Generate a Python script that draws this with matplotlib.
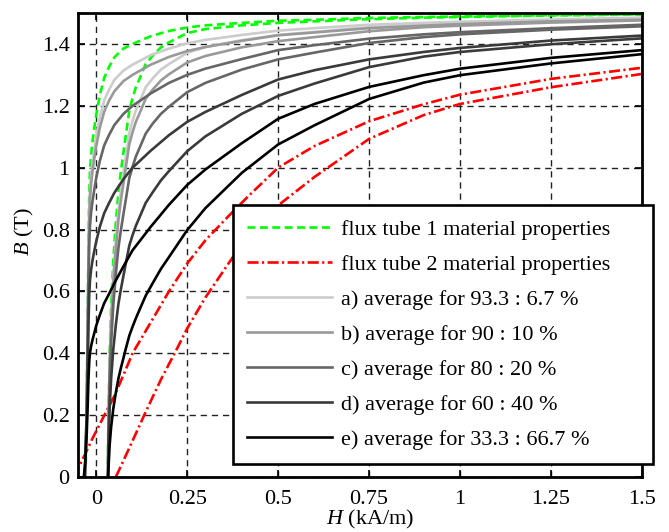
import matplotlib.pyplot as plt

plt.rcParams["font.family"] = ["Liberation Serif", "DejaVu Serif"]
plt.rcParams["mathtext.fontset"] = "custom"
plt.rcParams["mathtext.rm"] = "Liberation Serif"
plt.rcParams["mathtext.it"] = "Liberation Serif:italic"

# B-H branches as (H in kA/m, B in T); "desc" = left branch, "asc" = right branch
tube1_desc = [(-0.029, 0.0), (-0.026, 0.25), (-0.023, 0.55), (-0.021, 0.78), (-0.019, 0.92),
              (-0.017, 0.99), (-0.014, 1.04), (-0.01, 1.085), (-0.005, 1.13), (0.0, 1.17),
              (0.01, 1.235), (0.022, 1.29), (0.035, 1.325), (0.05, 1.357), (0.075, 1.385),
              (0.1, 1.40), (0.15, 1.425), (0.2, 1.442), (0.25, 1.453), (0.3, 1.46),
              (0.4, 1.468), (0.5, 1.475), (0.6, 1.478), (0.75, 1.484), (0.9, 1.487),
              (1.0, 1.489), (1.25, 1.493), (1.5, 1.496)]
tube1_asc = [(0.031, 0.0), (0.034, 0.2), (0.037, 0.4), (0.041, 0.55), (0.047, 0.7),
             (0.054, 0.82), (0.061, 0.92), (0.068, 0.99), (0.075, 1.05), (0.081, 1.10),
             (0.091, 1.185), (0.1, 1.225), (0.109, 1.26), (0.12, 1.29), (0.136, 1.335),
             (0.155, 1.362), (0.178, 1.389), (0.2, 1.405), (0.25, 1.435), (0.3, 1.448),
             (0.4, 1.46), (0.5, 1.468), (0.6, 1.473), (0.75, 1.48), (0.9, 1.485),
             (1.0, 1.487), (1.25, 1.492), (1.5, 1.495)]
tube2_desc = [(-0.06, 0.0), (-0.05, 0.027), (-0.03, 0.075), (-0.01, 0.125), (0.0, 0.148),
              (0.027, 0.21), (0.05, 0.262), (0.075, 0.33), (0.1, 0.4), (0.15, 0.5),
              (0.2, 0.6), (0.25, 0.69), (0.3, 0.765), (0.365, 0.845), (0.42, 0.91),
              (0.5, 1.0), (0.6, 1.07), (0.75, 1.15), (0.9, 1.205), (1.0, 1.236),
              (1.25, 1.287), (1.5, 1.323)]
tube2_asc = [(0.054, 0.0), (0.075, 0.053), (0.1, 0.117), (0.132, 0.2), (0.155, 0.258),
             (0.18, 0.32), (0.2, 0.365), (0.22, 0.41), (0.25, 0.48), (0.3, 0.58),
             (0.375, 0.71), (0.44, 0.80), (0.5, 0.878), (0.6, 0.97), (0.75, 1.093),
             (0.9, 1.17), (1.0, 1.206), (1.25, 1.26), (1.5, 1.303)]

mix_a_desc = [(-0.03, 0.0), (-0.026, 0.239), (-0.023, 0.519), (-0.021, 0.735), (-0.019, 0.865),
              (-0.017, 0.931), (-0.014, 0.978), (-0.01, 1.02), (-0.005, 1.063), (0.0, 1.102),
              (0.01, 1.163), (0.022, 1.217), (0.035, 1.251), (0.05, 1.284), (0.075, 1.314),
              (0.1, 1.333), (0.15, 1.364), (0.2, 1.385), (0.25, 1.402), (0.3, 1.413),
              (0.4, 1.429), (0.5, 1.443), (0.6, 1.451), (0.75, 1.462), (0.9, 1.468),
              (1.0, 1.472), (1.25, 1.479), (1.5, 1.485)]
mix_a_asc = [(0.031, 0.0), (0.034, 0.184), (0.037, 0.37), (0.041, 0.511), (0.047, 0.652),
             (0.054, 0.765), (0.061, 0.859), (0.068, 0.926), (0.075, 0.984), (0.081, 1.031),
             (0.091, 1.112), (0.1, 1.151), (0.109, 1.185), (0.12, 1.215), (0.136, 1.26),
             (0.155, 1.288), (0.178, 1.317), (0.2, 1.335), (0.25, 1.371), (0.3, 1.39),
             (0.4, 1.412), (0.5, 1.429), (0.6, 1.439), (0.75, 1.454), (0.9, 1.463),
             (1.0, 1.468), (1.25, 1.476), (1.5, 1.482)]
mix_b_desc = [(-0.03, 0.0), (-0.026, 0.234), (-0.023, 0.504), (-0.021, 0.712), (-0.019, 0.838),
              (-0.017, 0.902), (-0.014, 0.948), (-0.01, 0.99), (-0.005, 1.031), (0.0, 1.068),
              (0.01, 1.129), (0.022, 1.181), (0.035, 1.216), (0.05, 1.247), (0.075, 1.28),
              (0.1, 1.30), (0.15, 1.333), (0.2, 1.358), (0.25, 1.377), (0.3, 1.39),
              (0.4, 1.41), (0.5, 1.428), (0.6, 1.437), (0.75, 1.451), (0.9, 1.459),
              (1.0, 1.464), (1.25, 1.473), (1.5, 1.478)]
mix_b_asc = [(0.032, 0.0), (0.034, 0.175), (0.037, 0.356), (0.041, 0.492), (0.047, 0.628),
             (0.054, 0.738), (0.061, 0.83), (0.068, 0.895), (0.075, 0.95), (0.081, 0.997),
             (0.091, 1.076), (0.1, 1.115), (0.109, 1.148), (0.12, 1.178), (0.136, 1.223),
             (0.155, 1.252), (0.178, 1.282), (0.2, 1.302), (0.25, 1.34), (0.3, 1.361),
             (0.4, 1.389), (0.5, 1.409), (0.6, 1.422), (0.75, 1.441), (0.9, 1.454),
             (1.0, 1.459), (1.25, 1.469), (1.5, 1.476)]
mix_c_desc = [(-0.031, 0.0), (-0.026, 0.217), (-0.023, 0.459), (-0.021, 0.644), (-0.019, 0.757),
              (-0.017, 0.814), (-0.014, 0.855), (-0.01, 0.893), (-0.005, 0.931), (0.0, 0.966),
              (0.01, 1.022), (0.022, 1.072), (0.035, 1.105), (0.05, 1.138), (0.075, 1.174),
              (0.1, 1.20), (0.15, 1.24), (0.2, 1.274), (0.25, 1.30), (0.3, 1.32),
              (0.4, 1.351), (0.5, 1.38), (0.6, 1.396), (0.75, 1.417), (0.9, 1.431),
              (1.0, 1.438), (1.25, 1.451), (1.5, 1.462)]
mix_c_asc = [(0.0325, 0.0), (0.034, 0.15), (0.037, 0.311), (0.041, 0.433), (0.047, 0.556),
             (0.054, 0.656), (0.061, 0.74), (0.068, 0.799), (0.075, 0.851), (0.081, 0.894),
             (0.091, 0.967), (0.1, 1.003), (0.109, 1.036), (0.12, 1.066), (0.136, 1.11),
             (0.155, 1.142), (0.178, 1.174), (0.2, 1.197), (0.25, 1.244), (0.3, 1.274),
             (0.4, 1.317), (0.5, 1.35), (0.6, 1.372), (0.75, 1.403), (0.9, 1.422),
             (1.0, 1.431), (1.25, 1.446), (1.5, 1.457)]
mix_d_desc = [(-0.032, 0.0), (-0.026, 0.184), (-0.023, 0.367), (-0.021, 0.507), (-0.019, 0.593),
              (-0.017, 0.637), (-0.014, 0.67), (-0.01, 0.701), (-0.005, 0.732), (0.0, 0.761),
              (0.01, 0.809), (0.022, 0.853), (0.035, 0.885), (0.05, 0.919), (0.075, 0.963),
              (0.1, 1.0), (0.15, 1.055), (0.2, 1.105), (0.25, 1.148), (0.3, 1.18),
              (0.4, 1.235), (0.5, 1.285), (0.6, 1.315), (0.75, 1.35), (0.9, 1.374),
              (1.0, 1.387), (1.25, 1.411), (1.5, 1.427)]
mix_d_asc = [(0.033, 0.0), (0.034, 0.10), (0.037, 0.223), (0.041, 0.317), (0.047, 0.413),
             (0.054, 0.492), (0.061, 0.559), (0.068, 0.608), (0.075, 0.651), (0.081, 0.688),
             (0.091, 0.748), (0.1, 0.782), (0.109, 0.812), (0.12, 0.842), (0.136, 0.886),
             (0.155, 0.92), (0.178, 0.959), (0.2, 0.989), (0.25, 1.053), (0.3, 1.101),
             (0.4, 1.174), (0.5, 1.232), (0.6, 1.272), (0.75, 1.325), (0.9, 1.359),
             (1.0, 1.374), (1.25, 1.399), (1.5, 1.418)]
mix_e_desc = [(-0.034, 0.0), (-0.03, 0.047), (-0.026, 0.14), (-0.023, 0.245), (-0.021, 0.325),
              (-0.019, 0.375), (-0.017, 0.402), (-0.014, 0.423), (-0.01, 0.444), (-0.005, 0.466),
              (0.0, 0.489), (0.01, 0.524), (0.022, 0.562), (0.035, 0.591), (0.05, 0.627),
              (0.075, 0.681), (0.1, 0.733), (0.15, 0.809), (0.2, 0.88), (0.25, 0.944),
              (0.3, 0.994), (0.4, 1.079), (0.5, 1.158), (0.6, 1.206), (0.75, 1.261),
              (0.9, 1.299), (1.0, 1.32), (1.25, 1.355), (1.5, 1.38)]
mix_e_asc = [(0.0325, 0.0), (0.034, 0.034), (0.037, 0.104), (0.041, 0.161), (0.047, 0.221),
             (0.054, 0.273), (0.061, 0.318), (0.068, 0.353), (0.075, 0.385), (0.081, 0.413),
             (0.091, 0.457), (0.1, 0.486), (0.109, 0.513), (0.12, 0.543), (0.136, 0.586),
             (0.155, 0.626), (0.178, 0.673), (0.2, 0.711), (0.25, 0.798), (0.3, 0.869),
             (0.4, 0.983), (0.5, 1.075), (0.6, 1.137), (0.75, 1.222), (0.9, 1.275),
             (1.0, 1.299), (1.25, 1.337), (1.5, 1.367)]

mix_labels = ["a) average for 93.3 : 6.7 %", "b) average for 90 : 10 %",
              "c) average for 80 : 20 %", "d) average for 60 : 40 %",
              "e) average for 33.3 : 66.7 %"]
mix_colors = ["#cccccc", "#999999", "#666666", "#3a3a3a", "#000000"]

x_ticks = [0, 0.25, 0.5, 0.75, 1, 1.25, 1.5]
x_ticklabels = ["0", "0.25", "0.5", "0.75", "1", "1.25", "1.5"]
y_ticks = [0, 0.2, 0.4, 0.6, 0.8, 1.0, 1.2, 1.4]
y_ticklabels = ["0", "0.2", "0.4", "0.6", "0.8", "1", "1.2", "1.4"]


def unzip(points):
    return [p[0] for p in points], [p[1] for p in points]


fig, ax = plt.subplots(figsize=(6.69, 5.32), dpi=100)
fig.subplots_adjust(left=78 / 669, right=642 / 669, bottom=1 - 477 / 532, top=1 - 13 / 532)

lw = 1.9
for i, branch in enumerate([tube1_desc, tube1_asc]):
    h, b = unzip(branch)
    ax.plot(h, b, color="#00ff00", lw=lw, dashes=(3.0, 1.7),
            label="flux tube 1 material properties" if i == 0 else None)
for i, branch in enumerate([tube2_desc, tube2_asc]):
    h, b = unzip(branch)
    ax.plot(h, b, color="#ff0000", lw=lw, dashes=(4.2, 1.3, 0.8, 1.3),
            label="flux tube 2 material properties" if i == 0 else None)

mix_branches = [(mix_a_desc, mix_a_asc), (mix_b_desc, mix_b_asc), (mix_c_desc, mix_c_asc),
                (mix_d_desc, mix_d_asc), (mix_e_desc, mix_e_asc)]
for (desc, asc), label, color in zip(mix_branches, mix_labels, mix_colors):
    h, b = unzip(desc)
    ax.plot(h, b, color=color, lw=lw, label=label)
    h, b = unzip(asc)
    ax.plot(h, b, color=color, lw=lw)

ax.set_xlim(-0.05, 1.5)
ax.set_ylim(0, 1.5)
ax.set_xticks(x_ticks)
ax.set_xticklabels(x_ticklabels)
ax.set_yticks(y_ticks)
ax.set_yticklabels(y_ticklabels)
ax.tick_params(direction="in", top=True, right=True, length=5, width=1.2, labelsize=16)
ax.tick_params(axis="x", pad=9)
ax.tick_params(axis="y", pad=6)
ax.grid(True, color="#222222", linestyle=(0, (4.5, 3.5)), linewidth=1.0)
for s in ax.spines.values():
    s.set_linewidth(2.0)

ax.set_xlabel("$H$ (kA/m)", fontsize=16)
ax.set_ylabel("$B$ (T)", fontsize=16)
ax.xaxis.set_label_coords(0.518, -0.066)
ax.yaxis.set_label_coords(-0.074, 0.528)

leg = ax.legend(loc="lower left", bbox_to_anchor=(0.2748, 0.028, 0.7447, 0.5), mode="expand",
                borderaxespad=0, fontsize=16, handlelength=3.8, handletextpad=0.4,
                labelspacing=0.65, borderpad=0.65, fancybox=False, framealpha=1,
                edgecolor="black")
leg.get_frame().set_linewidth(1.9)

plt.savefig("out.png", dpi=100)
